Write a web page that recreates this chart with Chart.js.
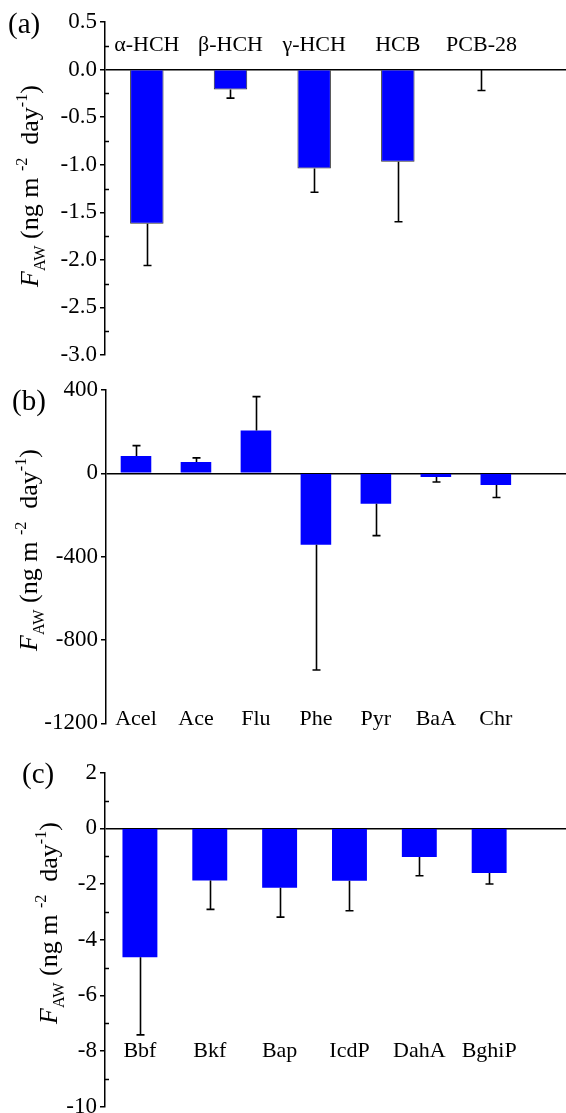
<!DOCTYPE html>
<html>
<head>
<meta charset="utf-8">
<script src="https://cdn.jsdelivr.net/npm/chart.js@4.4.0/dist/chart.umd.min.js"></script>
<style>
  html, body { margin: 0; padding: 0; background: #fff; }
  body { width: 566px; height: 1113px; overflow: hidden; position: relative; }
  canvas { position: absolute; left: 0; }
</style>
</head>
<body>
<canvas id="panelA" width="566" height="372" style="top:0px"></canvas>
<canvas id="panelB" width="566" height="370" style="top:372px"></canvas>
<canvas id="panelC" width="566" height="385" style="top:742px"></canvas>
<script>
// (a) HCHs, HCB and PCB-28
const ocpNames = ['α-HCH', 'β-HCH', 'γ-HCH', 'HCB', 'PCB-28'];
const ocpFlux = [-1.62, -0.21, -1.04, -0.97, 0];
const ocpErr = [0.44, 0.09, 0.25, 0.63, 0.22];
const ocpTicks = [0.5, 0.0, -0.5, -1.0, -1.5, -2.0, -2.5, -3.0];

// (b) lighter PAHs
const lightNames = ['Acel', 'Ace', 'Flu', 'Phe', 'Pyr', 'BaA', 'Chr'];
const lightFlux = [83, 54, 205, -343, -146, -18, -56];
const lightErr = [50, 20, 163, 601, 153, 24, 60];
const lightTicks = [400, 0, -400, -800, -1200];

// (c) heavier PAHs
const heavyNames = ['Bbf', 'Bkf', 'Bap', 'IcdP', 'DahA', 'BghiP'];
const heavyFlux = [-4.63, -1.87, -2.13, -1.88, -1.03, -1.60];
const heavyErr = [2.79, 1.04, 1.06, 1.08, 0.67, 0.40];
const heavyTicks = [2, 0, -2, -4, -6, -8, -10];

const SERIF = "'Liberation Serif', 'Times New Roman', serif";
Chart.defaults.font.family = SERIF;
Chart.defaults.color = '#000';

// F_AW (ng m^-2 day^-1), drawn piece by piece
const titleParts = [
  { text: 'F', italic: true },
  { text: 'AW', scale: 0.62, shift: 0.28 },
  { text: ' (ng m ' },
  { text: '-2', scale: 0.62, shift: -0.42 },
  { text: '  day' },
  { text: '-1', scale: 0.62, shift: -0.42 },
  { text: ')' }
];

function drawRich(ctx, parts, cx, cy, size) {
  ctx.save();
  ctx.translate(cx, cy);
  ctx.rotate(-Math.PI / 2);
  ctx.fillStyle = '#000';
  ctx.textBaseline = 'alphabetic';
  let total = 0;
  const runs = parts.map(p => {
    const font = (p.italic ? 'italic ' : '') + (size * (p.scale || 1)) + 'px ' + SERIF;
    ctx.font = font;
    const w = ctx.measureText(p.text).width;
    total += w;
    return { text: p.text, shift: p.shift || 0, font, w };
  });
  let x = -total / 2;
  runs.forEach(r => {
    ctx.font = r.font;
    ctx.fillText(r.text, x, r.shift * size);
    x += r.w;
  });
  ctx.restore();
}

// one-sided error bars, cap at the far end
const errorBars = {
  id: 'errorBars',
  afterDatasetsDraw(chart, args, opts) {
    const { ctx } = chart;
    const y = chart.scales.y;
    const meta = chart.getDatasetMeta(0);
    ctx.save();
    ctx.strokeStyle = '#000';
    ctx.lineWidth = 1.6;
    meta.data.forEach((bar, i) => {
      const v = opts.values[i];
      const dir = v > 0 ? 1 : -1;
      const end = y.getPixelForValue(v + dir * opts.errors[i]);
      const x = Math.round(bar.x) + 0.5;
      ctx.beginPath();
      ctx.moveTo(x, bar.y);
      ctx.lineTo(x, end);
      ctx.moveTo(x - 4, end);
      ctx.lineTo(x + 4, end);
      ctx.stroke();
    });
    ctx.restore();
  }
};

// compound names written inside the plot, minor ticks, axis title and panel tag
const decorations = {
  id: 'decorations',
  afterDraw(chart, args, opts) {
    const { ctx } = chart;
    const xs = chart.scales.x;
    const ys = chart.scales.y;
    ctx.save();
    ctx.fillStyle = '#000';
    ctx.font = opts.nameSize + 'px ' + SERIF;
    ctx.textAlign = 'center';
    ctx.textBaseline = 'alphabetic';
    const yName = ys.getPixelForValue(opts.nameAt);
    opts.names.forEach((n, i) => ctx.fillText(n, xs.getPixelForValue(i + 1), yName));

    ctx.strokeStyle = '#000';
    ctx.lineWidth = 1.5;
    const left = chart.chartArea.left;
    opts.minor.forEach(v => {
      const py = Math.round(ys.getPixelForValue(v)) + 0.5;
      ctx.beginPath();
      ctx.moveTo(left, py);
      ctx.lineTo(left + 4, py);
      ctx.stroke();
    });

    ctx.textAlign = 'left';
    ctx.font = opts.tagSize + 'px ' + SERIF;
    ctx.fillText(opts.tag, opts.tagX, opts.tagY);
    ctx.restore();

    drawRich(ctx, titleParts, opts.titleX, opts.titleY, opts.titleSize);
  }
};

function midpoints(ticks) {
  const out = [];
  for (let i = 1; i < ticks.length; i++) out.push((ticks[i - 1] + ticks[i]) / 2);
  return out;
}

function fluxPanel(id, p) {
  return new Chart(document.getElementById(id), {
    type: 'bar',
    data: {
      datasets: [{
        data: p.flux.map((v, i) => ({ x: i + 1, y: v })),
        backgroundColor: '#0000ff',
        borderColor: p.edge || '#0000ff',
        borderWidth: p.edge ? 1 : 0,
        barPercentage: p.barFrac,
        categoryPercentage: 1
      }]
    },
    options: {
      responsive: false,
      animation: false,
      devicePixelRatio: 1,
      layout: { padding: { left: 0, right: 0, top: p.top, bottom: p.bottom } },
      scales: {
        x: {
          type: 'linear',
          display: false,
          offset: false,
          min: 0.5,
          max: p.xMax,
          afterBuildTicks: s => { s.ticks = p.names.map((_, i) => ({ value: i + 1 })); }
        },
        y: {
          min: Math.min(...p.ticks),
          max: Math.max(...p.ticks),
          afterBuildTicks: s => { s.ticks = p.ticks.map(v => ({ value: v })); },
          afterFit: s => { s.width = p.axisX; },
          ticks: {
            font: { size: 23 },
            color: '#000',
            padding: 3,
            callback: v => p.fmt(v)
          },
          grid: {
            color: c => (c.tick && c.tick.value === 0 ? '#000' : 'rgba(0,0,0,0)'),
            lineWidth: 1.5,
            tickColor: '#000',
            tickLength: 5,
            tickWidth: 1.5
          },
          border: { color: '#000', width: 1.5 }
        }
      },
      plugins: {
        legend: { display: false },
        tooltip: { enabled: false },
        errorBars: { values: p.flux, errors: p.err },
        decorations: {
          names: p.names,
          nameAt: p.nameAt,
          nameSize: 22,
          minor: p.minor,
          tag: p.tag, tagX: p.tagX, tagY: p.tagY, tagSize: 29,
          titleX: p.titleX, titleY: p.titleY, titleSize: 26
        }
      }
    },
    plugins: [errorBars, decorations]
  });
}

fluxPanel('panelA', {
  names: ocpNames, flux: ocpFlux, err: ocpErr, ticks: ocpTicks,
  minor: midpoints(ocpTicks), fmt: v => v.toFixed(1),
  nameAt: 0.2, xMax: 6.01, barFrac: 0.4, edge: '#333333',
  axisX: 105, top: 22, bottom: 17,
  tag: '(a)', tagX: 8, tagY: 33, titleX: 38, titleY: 186
});

fluxPanel('panelB', {
  names: lightNames, flux: lightFlux, err: lightErr, ticks: lightTicks,
  minor: [], fmt: v => String(v),
  nameAt: -1210, xMax: 8.17, barFrac: 0.51,
  axisX: 106, top: 18, bottom: 18.7,
  tag: '(b)', tagX: 12, tagY: 38, titleX: 37, titleY: 178
});

fluxPanel('panelC', {
  names: heavyNames, flux: heavyFlux, err: heavyErr, ticks: heavyTicks,
  minor: midpoints(heavyTicks), fmt: v => String(v),
  nameAt: -8.22, xMax: 7.1, barFrac: 0.5,
  axisX: 105, top: 30.7, bottom: 20.3,
  tag: '(c)', tagX: 22, tagY: 41, titleX: 57, titleY: 181
});
</script>
</body>
</html>
